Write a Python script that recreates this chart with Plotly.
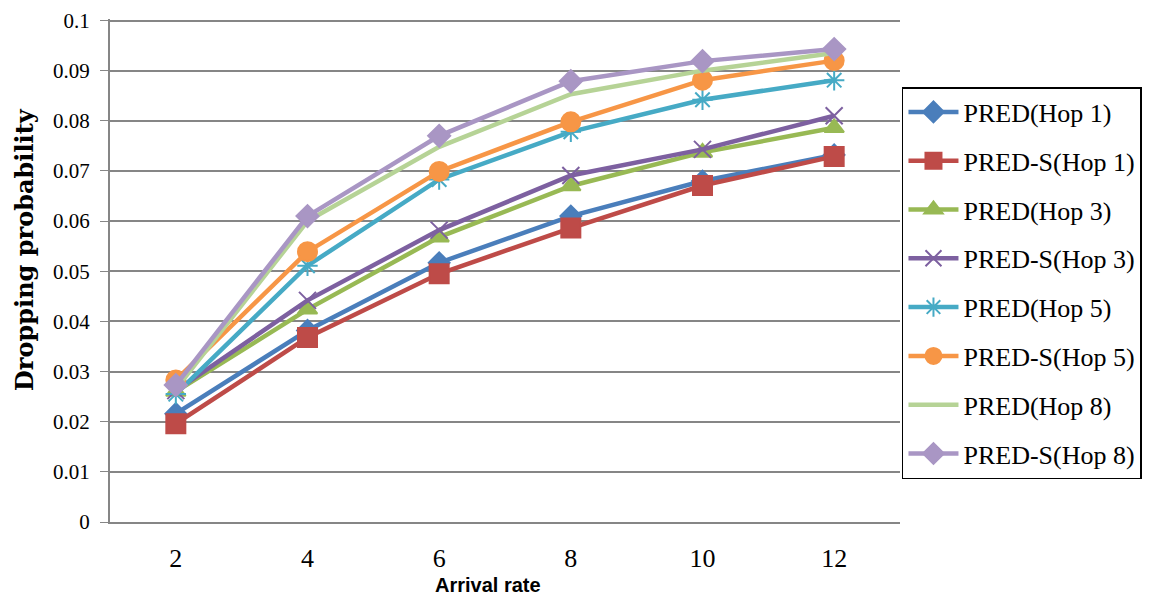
import plotly.graph_objects as go

arrival_rate = [2, 4, 6, 8, 10, 12]
y_ticks = [0, 0.01, 0.02, 0.03, 0.04, 0.05, 0.06, 0.07, 0.08, 0.09, 0.1]
y_tick_labels = ["0", "0.01", "0.02", "0.03", "0.04", "0.05", "0.06", "0.07", "0.08", "0.09", "0.1"]

pred_hop1 = [0.0216, 0.0382, 0.0517, 0.0610, 0.0680, 0.0732]
preds_hop1 = [0.0196, 0.0368, 0.0495, 0.0586, 0.0671, 0.0729]
pred_hop3 = [0.0260, 0.0424, 0.0568, 0.0670, 0.0737, 0.0786]
preds_hop3 = [0.0262, 0.0442, 0.0582, 0.0691, 0.0743, 0.0810]
pred_hop5 = [0.0255, 0.0511, 0.0683, 0.0778, 0.0842, 0.0881]
preds_hop5 = [0.0283, 0.0539, 0.0699, 0.0798, 0.0881, 0.0920]
pred_hop8 = [0.0265, 0.0600, 0.0748, 0.0853, 0.0900, 0.0935]
preds_hop8 = [0.0273, 0.0610, 0.0770, 0.0879, 0.0919, 0.0943]

series_names = ["PRED(Hop 1)", "PRED-S(Hop 1)", "PRED(Hop 3)", "PRED-S(Hop 3)",
                "PRED(Hop 5)", "PRED-S(Hop 5)", "PRED(Hop 8)", "PRED-S(Hop 8)"]
series_values = [pred_hop1, preds_hop1, pred_hop3, preds_hop3,
                 pred_hop5, preds_hop5, pred_hop8, preds_hop8]
colors = ["#4A7EBB", "#BE4B48", "#98B954", "#7D60A0",
          "#46AAC5", "#F79646", "#B6D396", "#A996C4"]
symbols = ["diamond", "square", "triangle-up", "x-thin-open",
           "asterisk-open", "circle", None, "diamond"]
sizes = [16, 19, 17, 17, 17, 19, 0, 17]

fig = go.Figure()
for i, (name, vals, col, sym, sz) in enumerate(zip(series_names, series_values, colors, symbols, sizes)):
    common = dict(x=arrival_rate, y=vals, name=name, legendgroup=f"g{i}",
                  line=dict(color=col, width=4.5))
    if sym is None:
        fig.add_trace(go.Scatter(mode="lines", **common))
    else:
        fig.add_trace(go.Scatter(mode="lines+markers",
                                 marker=dict(symbol=sym, size=sz, color=col,
                                             line=dict(color=col, width=2)),
                                 **common))

PLOT_H = 599 - 11 - 85

fig.update_layout(
    width=1151, height=599,
    margin=dict(l=102, r=259, t=11, b=85),
    plot_bgcolor="white", paper_bgcolor="white",
    font=dict(family="Liberation Serif, serif", size=20, color="black"),
    legend=dict(x=1.0025, y=(514 - 79) / PLOT_H, xanchor="left", yanchor="top",
                bgcolor="white", bordercolor="black", borderwidth=1.5,
                font=dict(family="Liberation Serif, serif", size=26),
                itemwidth=50,
                traceorder="grouped", tracegroupgap=12),
    xaxis=dict(range=[1, 13], tickvals=arrival_rate, showgrid=False,
               showline=True, linecolor="#868686", linewidth=2,
               ticks="outside", ticklen=12, tickcolor="rgba(0,0,0,0)",
               tickfont=dict(size=26),
               zeroline=False, automargin=False),
    yaxis=dict(range=[0, 0.1003], tickvals=y_ticks, ticktext=y_tick_labels,
               showgrid=True, gridcolor="#868686", gridwidth=1.5,
               showline=True, linecolor="#868686", linewidth=2,
               ticks="outside", ticklen=8, tickcolor="#868686", zeroline=False,
               ticklabelstandoff=6, tickfont=dict(size=21),
               ticklabeloverflow="allow",
               automargin=False),
    annotations=[
        dict(text="<b>Dropping probability</b>", xref="paper", yref="paper",
             x=(16 - 102) / 790, y=(514 - 242) / PLOT_H, textangle=-90,
             showarrow=False, xanchor="center", yanchor="middle",
             font=dict(family="DejaVu Serif, serif", size=24)),
        dict(text="<b>Arrival rate</b>", xref="paper", yref="paper",
             x=(480 - 102) / 790, y=(514 - 577) / PLOT_H,
             showarrow=False, xanchor="center", yanchor="middle",
             font=dict(family="Liberation Sans, Arial, sans-serif", size=20)),
    ],
)

fig.write_html("out.html")
